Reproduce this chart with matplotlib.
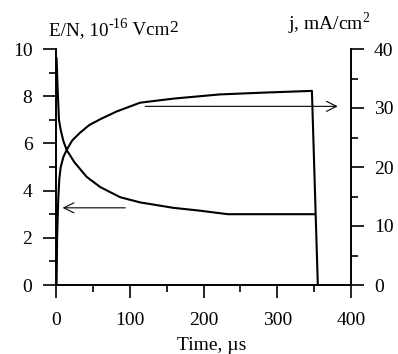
import matplotlib
matplotlib.use("Agg")
import matplotlib.pyplot as plt
from matplotlib.ticker import MultipleLocator

plt.rcParams['font.family'] = ['Liberation Serif', 'DejaVu Serif']
plt.rcParams['mathtext.fontset'] = 'custom'
plt.rcParams['mathtext.rm'] = 'Liberation Serif'

# E/N (left axis, 1e-16 V cm^2) vs time (us)
t_en = [0.8, 2, 4, 6.4, 10, 14.5, 25, 41.6, 60, 87, 114, 159, 195, 233, 350]
en = [9.6, 8.5, 7.0, 6.57, 6.1, 5.72, 5.2, 4.58, 4.15, 3.72, 3.5, 3.27, 3.15, 3.0, 3.0]

# j (right axis, mA/cm^2) vs time (us)
t_j = [0.8, 1.5, 3, 4.5, 6.4, 10, 14.5, 22, 32.5, 45, 60, 82, 114, 160, 222, 280, 347, 355]
j = [0, 8, 14.4, 18, 20, 21.7, 22.9, 24.5, 25.8, 27.1, 28.1, 29.4, 30.9, 31.6, 32.3, 32.6, 32.9, 0]

fig = plt.figure(figsize=(3.98, 3.54), dpi=100)
ax = fig.add_axes([56/398, 1-285/354, (351-56)/398, (285-49)/354])
ax2 = ax.twinx()

ax.plot(t_en, en, color='black', lw=1.5)
ax2.plot(t_j, j, color='black', lw=1.5)

ax.set_xlim(0, 400)
ax.set_ylim(0, 10)
ax2.set_ylim(0, 40)

for a in (ax, ax2):
    a.spines['top'].set_visible(False)
    for s in a.spines.values():
        s.set_linewidth(1.2)

ax.xaxis.set_major_locator(MultipleLocator(100))
ax.xaxis.set_minor_locator(MultipleLocator(50))
ax.yaxis.set_major_locator(MultipleLocator(2))
ax.yaxis.set_minor_locator(MultipleLocator(1))
ax2.yaxis.set_major_locator(MultipleLocator(10))
ax2.yaxis.set_minor_locator(MultipleLocator(5))

FS = 14
ax.tick_params(axis='y', which='major', direction='out', length=9.5, width=1.2, labelsize=FS, pad=7.5)
ax.tick_params(axis='x', which='major', direction='out', length=9.5, width=1.2, labelsize=FS, pad=10)
ax.tick_params(axis='both', which='minor', direction='out', length=5, width=1.2)
ax2.tick_params(axis='y', which='major', direction='out', length=9.5, width=1.2, labelsize=FS, pad=7)
ax2.tick_params(axis='y', which='minor', direction='out', length=5, width=1.2)

fig.text(212/398, 1-350/354, 'Time, µs', fontsize=FS, ha='center', va='baseline')

# arrows pointing to axes
ax.annotate('', xy=(9, 3.27), xytext=(94, 3.27),
            arrowprops=dict(arrowstyle='->', lw=0.8, color='black', mutation_scale=18, shrinkA=0, shrinkB=0))
ax.annotate('', xy=(382, 7.57), xytext=(121, 7.57),
            arrowprops=dict(arrowstyle='->', lw=0.8, color='black', mutation_scale=18, shrinkA=0, shrinkB=0))

# left axis title, built from pieces
fig.canvas.draw()
renderer = fig.canvas.get_renderer()
pieces = [('E/N, 10', 13.8, 0), ('-16', 10.5, 7), (' Vcm', 13.8, 0), ('2', 12.5, 2.5)]
x = 49
for txt, fs, rise in pieces:
    tt = fig.text(x/398, 1-(35-rise)/354, txt, fontsize=fs, ha='left', va='baseline')
    bb = tt.get_window_extent(renderer)
    x += bb.width

fig.text(288/398, 1-30/354, 'j, mA/cm$^{2}$', fontsize=FS, ha='left', va='baseline')

fig.savefig('out.png', dpi=100)
